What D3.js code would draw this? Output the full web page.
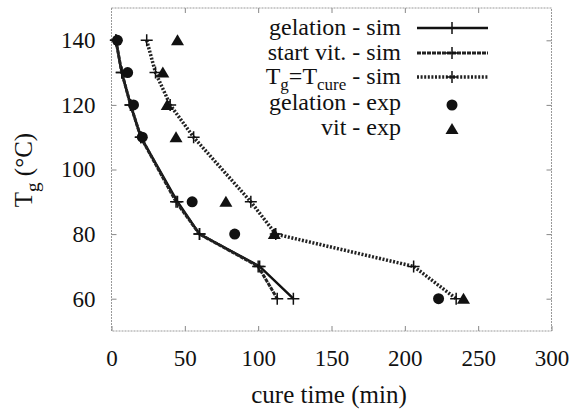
<!DOCTYPE html>
<meta charset="utf-8">
<body style="margin:0">
<svg width="575" height="414" id="chart"></svg>
<script src="https://cdn.jsdelivr.net/npm/d3@7"></script>
<script>
	// simulated curves: temperature (C) vs cure time (min)
	var simTemp = [140, 130, 120, 110, 90, 80, 70, 60];
	var gelSimTime = [3, 7, 13, 20, 45, 60, 101, 124];
	var vitSimTime = [3, 7, 13, 20, 44, 60, 100, 113];
	var tgSimTime = [24, 30, 40, 56, 95, 112, 206, 235];

	// experimental points
	var expTemp = [140, 130, 120, 110, 90, 80, 60];
	var gelExpTime = [4, 11, 15, 21, 55, 84, 223];
	var vitExpTime = [45, 35, 38, 44, 78, 111, 240];

	var xTicks = [0, 50, 100, 150, 200, 250, 300];
	var yTicks = [60, 80, 100, 120, 140];

	var FONT = '"Liberation Serif"';

	var svg = d3.select("#chart");
	var x = d3.scaleLinear().domain([0, 300]).range([111.5, 551.5]);
	var y = d3.scaleLinear().domain([50, 150]).range([331, 8]);

	// axes, ticks inside, mirrored on top/right
	svg.append("g").attr("transform", "translate(0,331)")
		.call(d3.axisBottom(x).tickValues(xTicks).tickSize(-5).tickPadding(19));
	svg.append("g").attr("transform", "translate(0,8)")
		.call(d3.axisTop(x).tickValues(xTicks.slice(1, -1)).tickSize(-5).tickFormat(""));
	svg.append("g").attr("transform", "translate(111.5,0)")
		.call(d3.axisLeft(y).tickValues(yTicks).tickSize(-5).tickPadding(16));
	svg.append("g").attr("transform", "translate(551.5,0)")
		.call(d3.axisRight(y).tickValues(yTicks).tickSize(-5).tickFormat(""));
	svg.selectAll(".domain").remove();
	svg.selectAll("g").attr("font-family", null);
	svg.selectAll(".tick line").attr("stroke", "#888");
	svg.selectAll(".tick text").attr("font-size", 23);

	svg.append("rect")
		.attr("x", x(0)).attr("y", y(150))
		.attr("width", x(300) - x(0)).attr("height", y(50) - y(150))
		.attr("fill", "none").attr("stroke", "#999").attr("stroke-dasharray", "2,1");

	function zip(xs, ys){ return xs.map(function(v, i){ return [v, ys[i]]; }); }

	var line = d3.line().x(function(d){ return x(d[0]); }).y(function(d){ return y(d[1]); });

	var series = [
		{name:"gelation - sim", data:zip(gelSimTime, simTemp), width:2.5, dash:null, color:"#111"},
		{name:"start vit. - sim", data:zip(vitSimTime, simTemp), width:3, dash:"4,1", color:"#222"},
		{name:"Tg=Tcure - sim", data:zip(tgSimTime, simTemp), width:3.5, dash:"2,1.6", color:"#222"}
	];

	function plus(g, cx, cy){
		g.append("path")
			.attr("d", "M" + (cx - 6) + "," + cy + "h12M" + cx + "," + (cy - 6) + "v12")
			.attr("stroke", "#111").attr("stroke-width", 1.5).attr("fill", "none");
	}
	function tri(g, cx, cy){
		g.append("path")
			.attr("d", "M" + cx + "," + (cy - 6) + "L" + (cx + 6.5) + "," + (cy + 5) + "L" + (cx - 6.5) + "," + (cy + 5) + "Z")
			.attr("fill", "#111");
	}

	series.forEach(function(s){
		svg.append("path").datum(s.data)
			.attr("d", line).attr("fill", "none")
			.attr("stroke", s.color).attr("stroke-width", s.width)
			.attr("stroke-dasharray", s.dash);
		s.data.forEach(function(d){ plus(svg, x(d[0]), y(d[1])); });
	});

	zip(gelExpTime, expTemp).forEach(function(d){
		svg.append("circle").attr("cx", x(d[0])).attr("cy", y(d[1])).attr("r", 5.5).attr("fill", "#111");
	});
	zip(vitExpTime, expTemp).forEach(function(d){ tri(svg, x(d[0]), y(d[1])); });

	// legend
	var lg = svg.append("g");
	var rows = [35, 60, 84, 110, 135];
	function legText(i){
		return lg.append("text").attr("x", 401).attr("y", rows[i]).attr("font-size", 24).attr("text-anchor", "end");
	}
	legText(0).text("gelation - sim");
	legText(1).text("start vit. - sim");
	var t3 = legText(2);
	t3.append("tspan").text("T");
	t3.append("tspan").attr("dy", 6).attr("font-size", 17).text("g");
	t3.append("tspan").attr("dy", -6).text("=T");
	t3.append("tspan").attr("dy", 6).attr("font-size", 17).text("cure");
	t3.append("tspan").attr("dy", -6).text(" - sim");
	legText(3).text("gelation - exp");
	legText(4).text("vit - exp");

	series.forEach(function(s, i){
		var ly = rows[i] - 7;
		lg.append("line").attr("x1", 417).attr("x2", 488).attr("y1", ly).attr("y2", ly)
			.attr("stroke", s.color).attr("stroke-width", s.width).attr("stroke-dasharray", s.dash);
		plus(lg, 452, ly);
	});
	lg.append("circle").attr("cx", 452).attr("cy", rows[3] - 5).attr("r", 5.5).attr("fill", "#111");
	tri(lg, 452, rows[4] - 6);

	// axis titles
	svg.append("text").attr("font-size", 25).attr("x", 329).attr("y", 403)
		.attr("text-anchor", "middle").text("cure time (min)");
	var yl = svg.append("text").attr("font-size", 25)
		.attr("transform", "translate(32,170) rotate(-90)").attr("text-anchor", "middle");
	yl.append("tspan").text("T");
	yl.append("tspan").attr("dy", 7).attr("font-size", 19).text("g");
	yl.append("tspan").attr("dy", -7).text(" (\u00b0C)");

	svg.selectAll("text, tspan").attr("font-family", FONT).attr("fill", "#111");
</script>
</body>
